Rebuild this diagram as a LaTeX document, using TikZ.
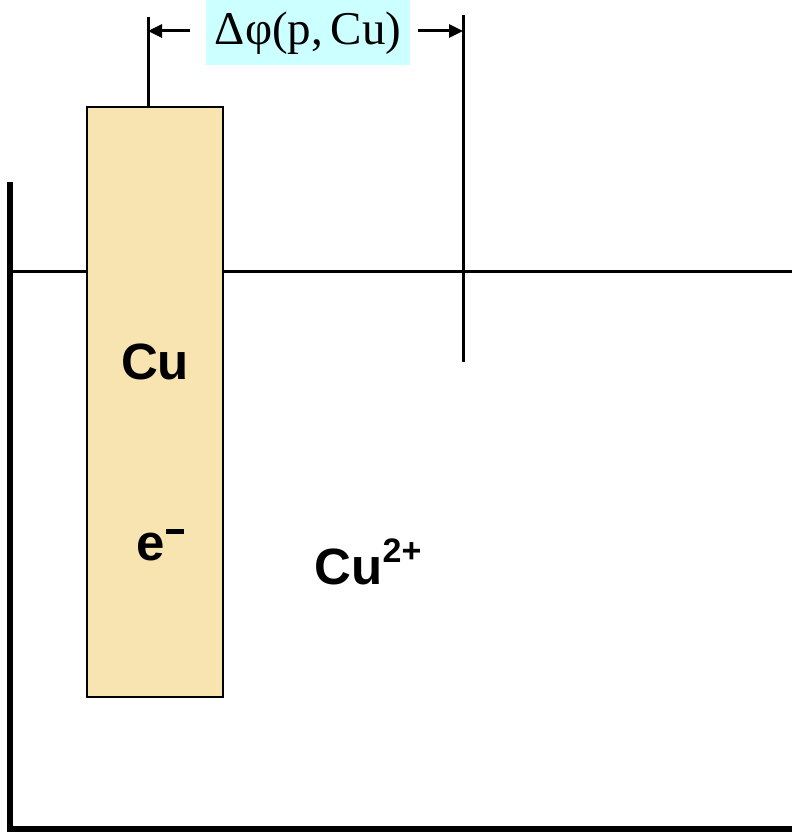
\documentclass[tikz,border=0pt]{standalone}
\usepackage{fontspec}
\setmainfont{Liberation Serif}
\setsansfont{Liberation Sans}
\usetikzlibrary{arrows.meta}
\definecolor{metal}{HTML}{F8E4B0}
\definecolor{labelbg}{HTML}{CCFFFF}
\newcommand{\supx}[1]{\raisebox{0.42em}{\fontsize{34}{36}\selectfont #1}}
\newcommand{\minusbar}{\kern1pt\raisebox{26pt}{\rule{18pt}{5.5pt}}}
\tikzset{
  lbl/.style={font=\sffamily\bfseries\fontsize{51}{53}\selectfont, inner sep=0pt},
  dimline/.style={line width=3pt},
  dimarrow/.style={line width=3pt, -{Triangle[length=14pt,width=13pt]}},
}
\begin{document}
\begin{tikzpicture}[x=1pt,y=-1pt]
\useasboundingbox (0,0) rectangle (792,834);
% vessel
\draw[line width=6pt] (10,182) -- (10,829) -- (792,829);
% liquid surface
\draw[line width=3pt] (10,271) -- (792,271);
% electrode
\node[draw, line width=2pt, fill=metal, minimum width=136pt, minimum height=590pt, inner sep=0pt, anchor=north west] (elec) at (86,106) {};
% dimension lines
\coordinate (lt) at (148,17);
\coordinate (lb) at (148,106);
\coordinate (rt) at (463,15);
\coordinate (rb) at (463,362);
\draw[dimline] (lt) -- (lb);
\draw[dimline] (rt) -- (rb);
\node[fill=labelbg, minimum width=204pt, minimum height=65pt, inner sep=0pt, anchor=north west] (dphibox) at (206,0) {};
\node[font=\fontsize{47}{48}\selectfont, inner sep=0pt] (dphi) at ([yshift=-1pt]dphibox.center) {Δφ(p,\,Cu)};
\coordinate (la) at (148,31);
\coordinate (ra) at (463,31);
\draw[dimarrow] (190,31) -- (la);
\draw[dimarrow] (418,31) -- (ra);
% labels
\node[lbl] (cu) at (155,362) {Cu};
\node[lbl, anchor=base west] (e) at (136,560) {e\minusbar};
\node[lbl] (cuion) at (368,562) {Cu\supx{2+}};
\end{tikzpicture}
\end{document}
